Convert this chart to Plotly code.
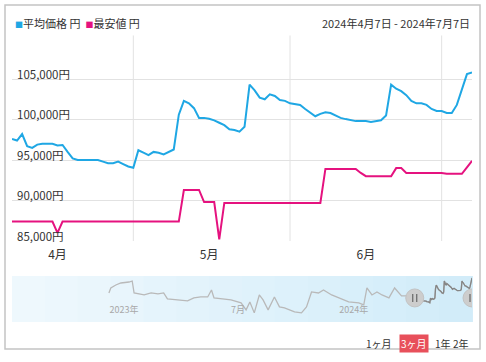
import pandas as pd
import plotly.graph_objects as go

# ---------------- data ----------------
dates = pd.date_range("2024-04-07", "2024-07-07", freq="D")

avg_price = [97600, 97400, 98200, 96700, 96500, 96900, 97000, 97000, 97000, 96800,
             96850, 96000, 95200, 95000, 95000, 95000, 95000, 95000, 94800, 94600,
             94600, 94800, 94500, 94200, 94050, 96200, 95900, 95600, 96000, 95900,
             95700, 96000, 96300, 100600, 102300, 102000, 101400, 100200, 100200, 100100,
             99900, 99600, 99300, 98800, 98700, 98500, 99100, 104300, 103600, 102700,
             102500, 103100, 102900, 102400, 102300, 102000, 101900, 101800, 101300, 100800,
             100400, 100700, 100900, 100800, 100550, 100200, 100050, 99950, 99800, 99800,
             99800, 99700, 99800, 99900, 100500, 104300, 103800, 103500, 103000, 102300,
             102000, 102000, 101800, 101300, 101050, 101050, 100800, 100800, 101800, 103800,
             105600, 105800]

min_price = [87400, 87400, 87400, 87400, 87400, 87400, 87400, 87400, 87400, 86000,
             87400, 87400, 87400, 87400, 87400, 87400, 87400, 87400, 87400, 87400,
             87400, 87400, 87400, 87400, 87400, 87400, 87400, 87400, 87400, 87400,
             87400, 87400, 87400, 87400, 91300, 91300, 91300, 91300, 89800, 89800,
             89800, 85200, 89700, 89700, 89700, 89700, 89700, 89700, 89700, 89700,
             89700, 89700, 89700, 89700, 89700, 89700, 89700, 89700, 89700, 89700,
             89700, 89700, 93900, 93900, 93900, 93900, 93900, 93900, 93900, 93400,
             93000, 93000, 93000, 93000, 93000, 93000, 94000, 94000, 93400, 93400,
             93400, 93400, 93400, 93400, 93400, 93400, 93300, 93300, 93300, 93300,
             94100, 94900]

# navigator history (average price before the selected window)
nav_dates = ["2022-12-08", "2022-12-11", "2022-12-19", "2022-12-27", "2023-01-09", "2023-01-14",
             "2023-01-17", "2023-02-02", "2023-02-13", "2023-02-24", "2023-03-05", "2023-03-11",
             "2023-03-27", "2023-04-12", "2023-04-22", "2023-05-03", "2023-05-14", "2023-05-20",
             "2023-05-24", "2023-06-04", "2023-06-20", "2023-07-06", "2023-07-14", "2023-07-20",
             "2023-07-27", "2023-08-04", "2023-08-10", "2023-08-18", "2023-08-28", "2023-09-05",
             "2023-09-13", "2023-09-29", "2023-10-10", "2023-10-18", "2023-10-26", "2023-11-06",
             "2023-11-14", "2023-11-27", "2023-12-08", "2023-12-24", "2024-01-09", "2024-01-17",
             "2024-01-22", "2024-01-30", "2024-02-07", "2024-02-15", "2024-02-26", "2024-03-06",
             "2024-03-17", "2024-03-25", "2024-04-02"]
nav_values = [98700, 101050, 102460, 103400, 103870, 104340, 98700, 97760, 98700, 98230,
              98700, 95880, 95410, 94940, 96350, 96820, 96820, 100110, 96350, 95880,
              95410, 94000, 90710, 94470, 89300, 97760, 95410, 90710, 96820, 92120,
              91650, 89770, 89300, 92120, 99170, 98700, 100110, 97760, 96350, 94470,
              94000, 93060, 101050, 97760, 99170, 97760, 96350, 101050, 97290, 97290,
              96820]

y_ticks = [85000, 90000, 95000, 100000, 105000, 110000]
y_ticktext = ["85,000円", "90,000円", "95,000円", "100,000円", "105,000円", ""]
month_ticks = ["2024-04-16", "2024-05-16", "2024-06-16"]
month_text = ["4月", "5月", "6月"]
month_grid = ["2024-05-01", "2024-06-01", "2024-07-01"]
nav_ticks = ["2023-01-01", "2023-07-01", "2024-01-01"]
nav_ticktext = ["2023年", "7月", "2024年"]
buttons = ["1ヶ月", "3ヶ月", "1年", "2年"]

# ---------------- style ----------------
BLUE = "#1fa7e4"
PINK = "#e5127f"
FONT = "Noto Sans CJK JP, sans-serif"
TXT = "#333333"
GRID = "#e2e2e2"

W, H = 486, 362
ML, MR, MT, MB = 12, 14, 38, 40
PW, PH = W - ML - MR, H - MT - MB


def px(x):
    return (x - ML) / PW


def py(y):
    return (H - MB - y) / PH


fig = go.Figure()

# main
fig.add_trace(go.Scatter(x=dates, y=avg_price, mode="lines", line=dict(color=BLUE, width=2),
                         xaxis="x", yaxis="y", hoverinfo="skip", showlegend=False))
fig.add_trace(go.Scatter(x=dates, y=min_price, mode="lines", line=dict(color=PINK, width=2),
                         xaxis="x", yaxis="y", hoverinfo="skip", showlegend=False))
# carrier for the month-label strip (separate thin subplot under the main plot)
fig.add_trace(go.Scatter(x=[dates[0]], y=[None], mode="lines", xaxis="x4", yaxis="y4",
                         hoverinfo="skip", showlegend=False))

# navigator
nav_all_x = list(pd.to_datetime(nav_dates)) + list(dates)
nav_all_y = nav_values + avg_price
fig.add_trace(go.Scatter(x=nav_all_x, y=nav_all_y, mode="lines", line=dict(color="#b9b9b9", width=1.3),
                         xaxis="x2", yaxis="y2", hoverinfo="skip", showlegend=False))
fig.add_trace(go.Scatter(x=dates, y=avg_price, mode="lines", line=dict(color="#858585", width=1.3),
                         xaxis="x2", yaxis="y2", hoverinfo="skip", showlegend=False))

shapes = []
# vertical month grid lines
for g in month_grid:
    shapes.append(dict(type="line", xref="x", yref="y domain", x0=g, x1=g, y0=0, y1=1.015,
                       line=dict(color=GRID, width=1), layer="below"))

# navigator background gradient
n = 14
c0 = (238, 248, 253)
c1 = (210, 236, 249)
for i in range(n):
    t = i / (n - 1)
    c = tuple(int(round(c0[k] + (c1[k] - c0[k]) * t)) for k in range(3))
    shapes.append(dict(type="rect", xref="x2 domain", yref="y2 domain",
                       x0=i / n, x1=(i + 1) / n + 0.002, y0=0, y1=1,
                       fillcolor="rgb(%d,%d,%d)" % c, line=dict(width=0), layer="below"))

# navigator handles
for xa in ["2024-04-07", "2024-07-07"]:
    shapes.append(dict(type="circle", xref="x2", yref="y2", xsizemode="pixel", ysizemode="pixel",
                       xanchor=xa, yanchor=96350, x0=-9, x1=9, y0=-9, y1=9,
                       fillcolor="#cdcdcd", line=dict(color="#c2c2c2", width=1), layer="above"))
    for dx in (-2, 2):
        shapes.append(dict(type="line", xref="x2", yref="y2", xsizemode="pixel", ysizemode="pixel",
                           xanchor=xa, yanchor=96350, x0=dx, x1=dx, y0=-4, y1=4,
                           line=dict(color="#666666", width=1.2), layer="above"))

# outer frame
shapes.append(dict(type="rect", xref="paper", yref="paper",
                   x0=px(5), x1=px(480), y0=py(349), y1=py(5),
                   line=dict(color="#c4c4c4", width=1.5), fillcolor="rgba(0,0,0,0)"))

annotations = [
    dict(xref="paper", yref="paper", x=px(13), y=py(23), xanchor="left", yanchor="middle",
         showarrow=False, font=dict(family=FONT, size=11, color=TXT),
         text="<span style='color:%s;font-size:8px'>■</span>平均価格 円  "
              "<span style='color:%s;font-size:8px'>■</span>最安値 円" % (BLUE, PINK)),
    dict(xref="paper", yref="paper", x=px(472), y=py(23), xanchor="right", yanchor="middle",
         showarrow=False, font=dict(family=FONT, size=11, color=TXT),
         text="2024年4月7日 - 2024年7月7日"),
]
btn_x = [379, 413.5, 442.5, 461]
for lab, bx in zip(buttons, btn_x):
    sel = lab == "3ヶ月"
    annotations.append(dict(xref="paper", yref="paper", x=px(bx), y=py(344),
                            xanchor="center", yanchor="middle", showarrow=False, text=lab,
                            font=dict(family=FONT, size=10, color="white" if sel else TXT),
                            bgcolor="#e8505b" if sel else "rgba(0,0,0,0)", borderpad=1))

fig.update_layout(
    width=W, height=H,
    margin=dict(l=ML, r=MR, t=MT, b=MB),
    paper_bgcolor="white", plot_bgcolor="white",
    font=dict(family=FONT, color=TXT),
    showlegend=False,
    xaxis=dict(domain=[0, 1], anchor="y", type="date", range=["2024-04-07", "2024-07-07"],
               showticklabels=False, showgrid=False, ticks="", showline=False,
               zeroline=False, fixedrange=True),
    yaxis=dict(domain=[py(241), py(38.5)], anchor="x", range=[85000, 110000],
               tickmode="array", tickvals=y_ticks, ticktext=y_ticktext,
               ticklabelposition="inside top", ticklabelshift=4, ticklabelstandoff=2,
               ticklabeloverflow="allow",
               showgrid=True, gridcolor=GRID, zeroline=False, showline=False, ticks="",
               tickfont=dict(size=11.5, color=TXT, family=FONT), fixedrange=True),
    xaxis4=dict(domain=[0, 1], anchor="y4", type="date", range=["2024-04-07", "2024-07-07"],
                tickmode="array", tickvals=month_ticks, ticktext=month_text, showgrid=False,
                ticks="", tickfont=dict(size=12, color=TXT, family=FONT), showline=False,
                ticklabelstandoff=4, zeroline=False, fixedrange=True),
    yaxis4=dict(domain=[py(242), py(241)], anchor="x4", visible=False, showgrid=False,
                zeroline=False, range=[0, 1]),
    xaxis2=dict(domain=[0, 1], anchor="y2", type="date", range=["2022-07-07", "2024-07-07"],
                tickmode="array", tickvals=nav_ticks, ticktext=nav_ticktext,
                ticklabelposition="inside", ticklabelstandoff=4, showgrid=False, zeroline=False,
                ticks="", tickfont=dict(size=9, color="#a8a8a8", family=FONT), showline=False),
    yaxis2=dict(domain=[0, py(276)], anchor="x2", range=[85000, 106700], visible=False,
                showgrid=False, zeroline=False),
    shapes=shapes,
    annotations=annotations,
)

fig.write_html("out.html", config={"displayModeBar": False},
               post_script="document.body.style.margin='0px';")
